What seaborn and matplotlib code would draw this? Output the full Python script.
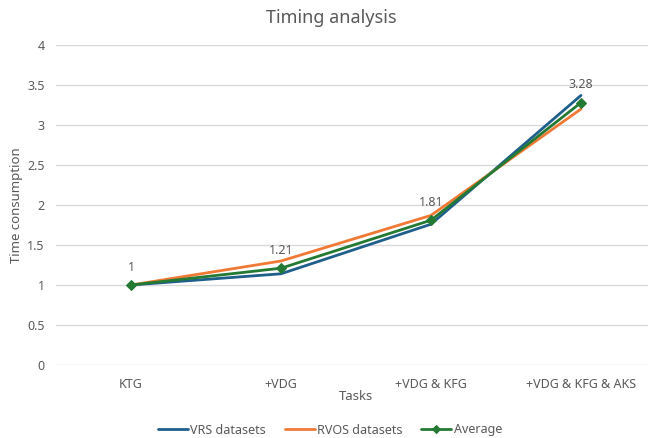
import matplotlib
matplotlib.use("Agg")
import matplotlib.pyplot as plt
import seaborn as sns
import pandas as pd

tasks = ["KTG", "+VDG", "+VDG & KFG", "+VDG & KFG & AKS"]
vrs = [1.0, 1.14, 1.76, 3.37]
rvos = [1.0, 1.30, 1.87, 3.20]
average = [1.0, 1.21, 1.81, 3.28]
avg_labels = ["1", "1.21", "1.81", "3.28"]

sns.set_style("white")
plt.rcParams["font.family"] = ["Noto Sans", "DejaVu Sans"]
grey = "#595959"

fig = plt.figure(figsize=(6.48, 4.38), dpi=100)
W, H = 648, 438
# plot area in pixels: x 56..656, y 45..365
ax = fig.add_axes([56 / W, (H - 365) / H, (648 - 56) / W, (365 - 45) / H])

df = pd.DataFrame({"Tasks": tasks, "VRS": vrs, "RVOS": rvos, "Avg": average})

sns.lineplot(data=df, x="Tasks", y="VRS", ax=ax, color="#1F5F8B", lw=2, label="VRS datasets", sort=False)
sns.lineplot(data=df, x="Tasks", y="RVOS", ax=ax, color="#F07A35", lw=2, label="RVOS datasets", sort=False)
sns.lineplot(data=df, x="Tasks", y="Avg", ax=ax, color="#247A33", lw=2, marker="D",
             markersize=5.5, markeredgecolor="#247A33", label="Average", sort=False)

for i, t in enumerate(avg_labels):
    ax.annotate(t, (i, average[i]), xytext=(0, 8), textcoords="offset points",
                ha="center", va="bottom", fontsize=9, color=grey)

ax.set_xlim(-0.5, (648 - 131) / 150)
ax.set_ylim(0, 4)
ax.set_yticks([0, 0.5, 1, 1.5, 2, 2.5, 3, 3.5, 4])
ax.set_yticklabels(["0", "0.5", "1", "1.5", "2", "2.5", "3", "3.5", "4"])
ax.grid(axis="y", color="#D9D9D9", lw=1)
ax.set_axisbelow(True)
for s in ax.spines.values():
    s.set_visible(False)
ax.tick_params(axis="both", length=0, labelsize=9, labelcolor=grey)
ax.tick_params(axis="x", pad=9)
ax.tick_params(axis="y", pad=8)
ax.set_xlabel("")
ax.set_ylabel("")

fig.text(331 / W, 1 - 18 / H, "Timing analysis", ha="center", va="center", fontsize=13, color=grey)
fig.text(356 / W, 1 - 397 / H, "Tasks", ha="center", va="center", fontsize=9.5, color=grey)
fig.text(17 / W, 1 - 205 / H, "Time consumption", ha="center", va="center", rotation=90,
         fontsize=9.5, color=grey)

ax.legend_.remove()
handles, labels = ax.get_legend_handles_labels()
leg = fig.legend(handles, labels, loc="center", bbox_to_anchor=(330 / W, 1 - 430 / H), ncol=3,
                 frameon=False, fontsize=9, handlelength=2.4, handletextpad=0.2, columnspacing=1.5,
                 markerscale=0.7)
for t in leg.get_texts():
    t.set_color(grey)

fig.savefig("out.png", dpi=100)
